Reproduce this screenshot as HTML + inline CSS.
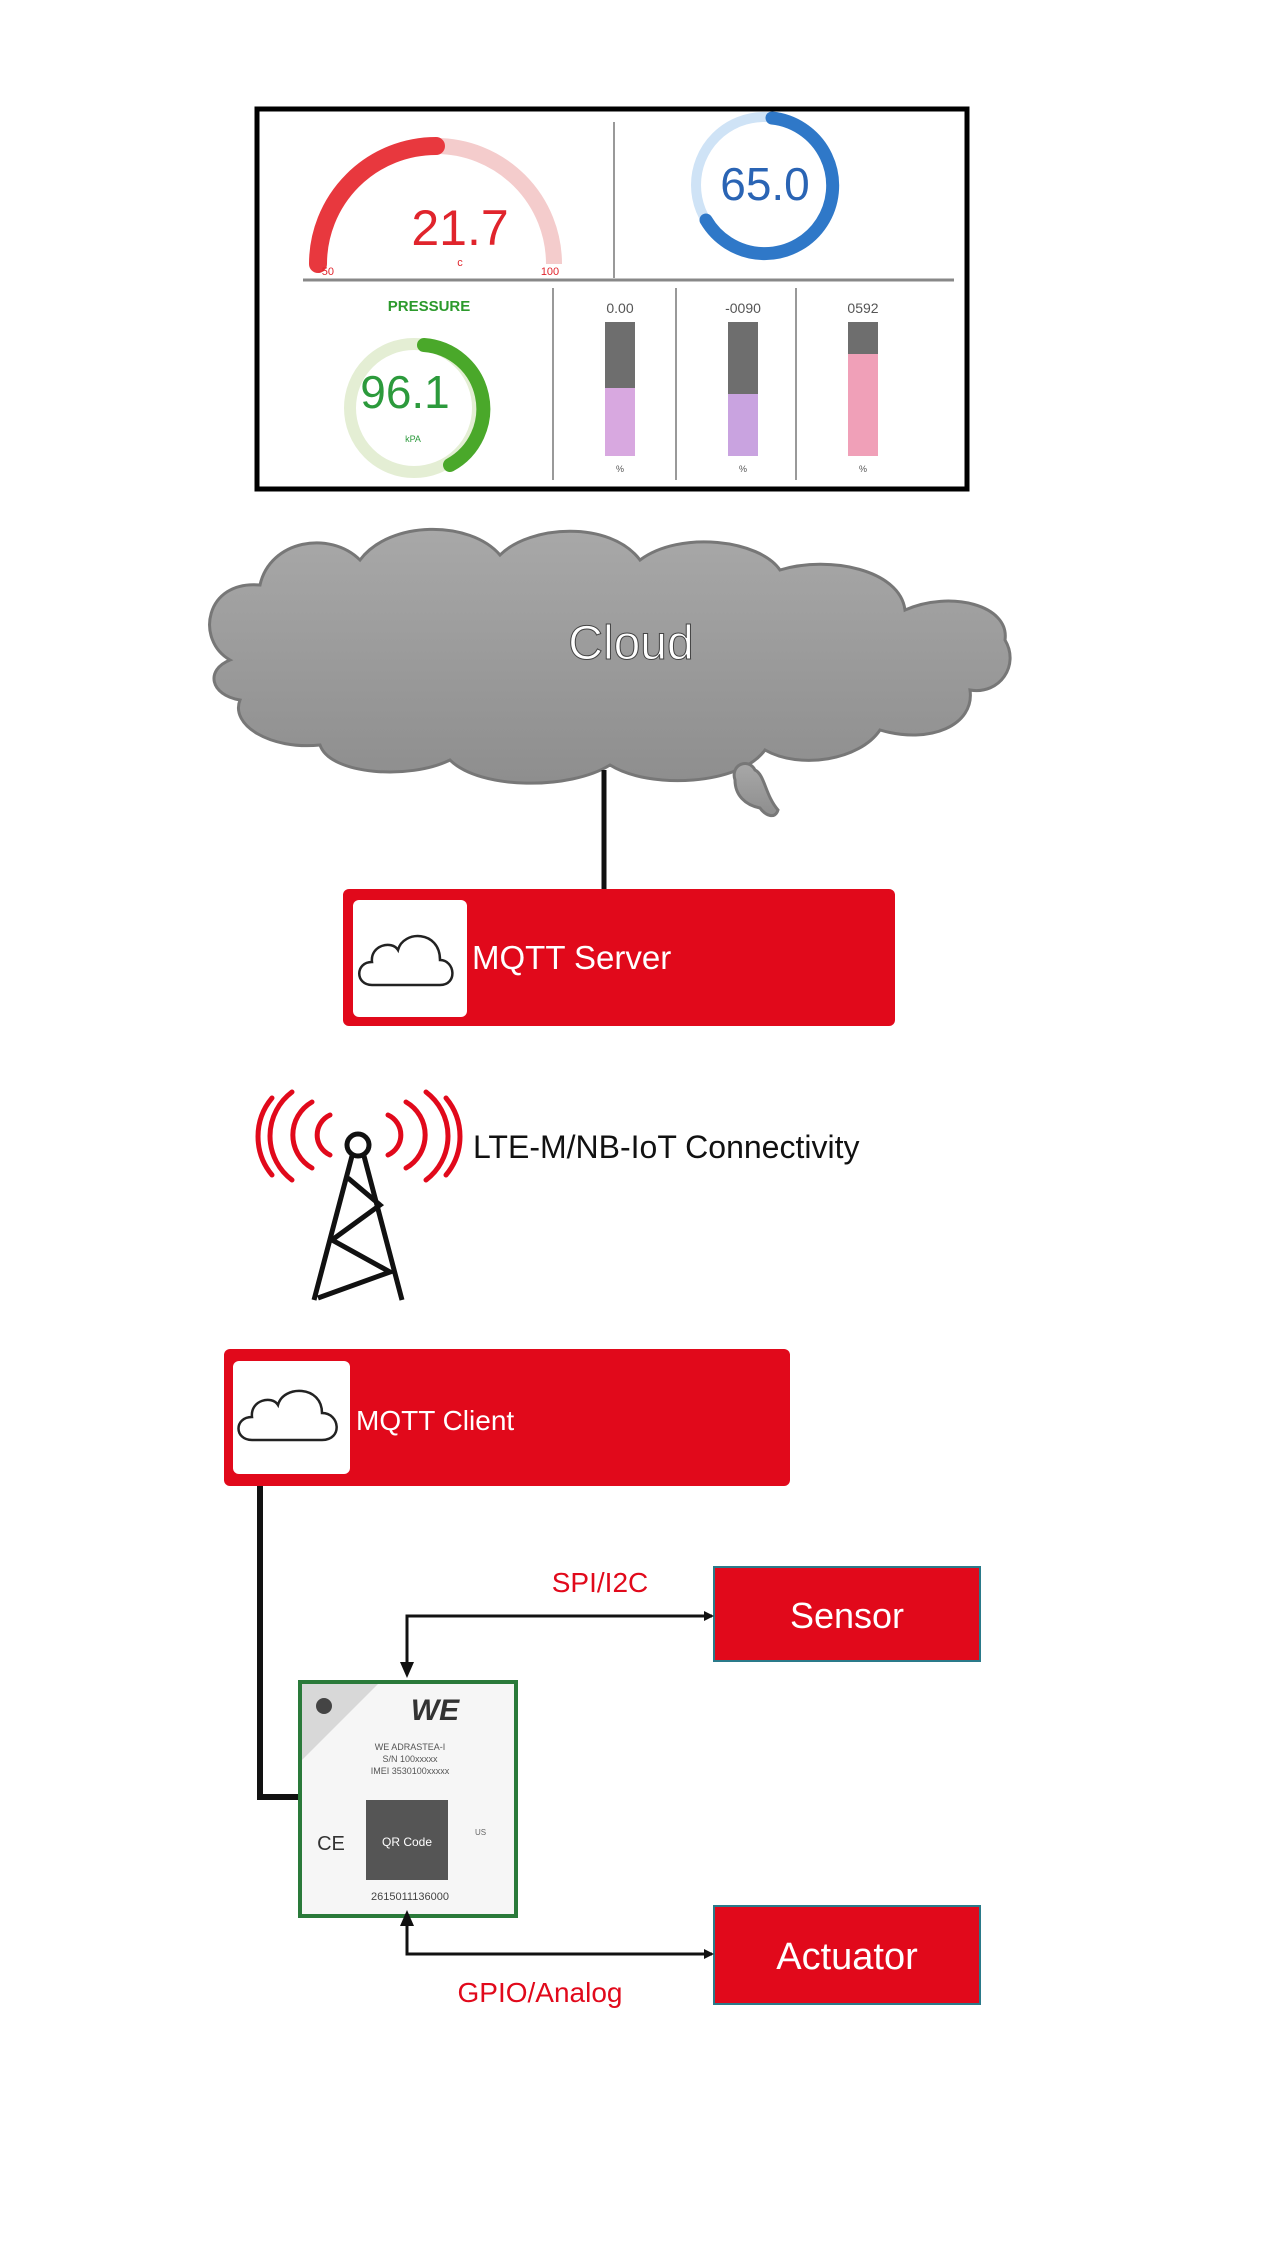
<!DOCTYPE html>
<html><head><meta charset="utf-8"><style>
html,body{margin:0;padding:0;background:#fff;}
svg{display:block;}
</style></head><body>
<svg width="1280" height="2252" viewBox="0 0 1280 2252" xmlns="http://www.w3.org/2000/svg" font-family="'Liberation Sans', sans-serif">
<defs>
<linearGradient id="cg" x1="0" y1="0" x2="0" y2="1"><stop offset="0" stop-color="#a8a8a8"/><stop offset="1" stop-color="#8e8e8e"/></linearGradient>
<marker id="ah" markerWidth="10" markerHeight="10" refX="8" refY="5" orient="auto" markerUnits="userSpaceOnUse"><path d="M0,0 L10,5 L0,10 z" fill="#111"/></marker>
</defs>
<!-- Dashboard -->
<rect x="257" y="109" width="710" height="380" fill="#fff" stroke="#000" stroke-width="5"/>
<line x1="614" y1="122" x2="614" y2="278" stroke="#999" stroke-width="2"/>
<line x1="303" y1="280" x2="954" y2="280" stroke="#888" stroke-width="3"/>
<line x1="553" y1="288" x2="553" y2="480" stroke="#999" stroke-width="2"/>
<line x1="676" y1="288" x2="676" y2="480" stroke="#999" stroke-width="2"/>
<line x1="796" y1="288" x2="796" y2="480" stroke="#999" stroke-width="2"/>
<!-- red gauge -->
<path d="M436,146 A118,118 0 0 1 554,264" fill="none" stroke="#f4cccc" stroke-width="16"/>
<path d="M318,264 A118,118 0 0 1 436,146" fill="none" stroke="#e8383e" stroke-width="18" stroke-linecap="round"/>
<text x="460" y="245" font-size="50" fill="#e0242c" text-anchor="middle">21.7</text>
<text x="326" y="275" font-size="11" fill="#e0242c" text-anchor="middle">-50</text>
<text x="460" y="266" font-size="11" fill="#e0242c" text-anchor="middle">c</text>
<text x="550" y="275" font-size="11" fill="#e0242c" text-anchor="middle">100</text>
<!-- blue gauge -->
<circle cx="764" cy="185" r="68" fill="none" stroke="#cfe3f6" stroke-width="10"/>
<path d="M772,118 A68,68 0 1 1 706,220" fill="none" stroke="#2f78c8" stroke-width="13" stroke-linecap="round"/>
<text x="765" y="200" font-size="46" fill="#2a64b4" text-anchor="middle">65.0</text>
<!-- green gauge -->
<text x="429" y="311" font-size="15" fill="#2c9a2c" text-anchor="middle" font-weight="bold">PRESSURE</text>
<circle cx="414" cy="408" r="64" fill="none" stroke="#e4eed4" stroke-width="12"/>
<path d="M424,345 A64,64 0 0 1 450,465" fill="none" stroke="#4aa82a" stroke-width="14" stroke-linecap="round"/>
<text x="405" y="408" font-size="46" fill="#2c9a3c" text-anchor="middle">96.1</text>
<text x="413" y="442" font-size="9" fill="#2c9a3c" text-anchor="middle">kPA</text>
<!-- bars -->
<g font-size="14" fill="#555" text-anchor="middle">
<rect x="605" y="322" width="30" height="66" fill="#555" opacity="0.85"/>
<rect x="605" y="388" width="30" height="68" fill="#d8a8e0"/>
<text x="620" y="313">0.00</text><text x="620" y="472" font-size="9">%</text>
<rect x="728" y="322" width="30" height="72" fill="#555" opacity="0.85"/>
<rect x="728" y="394" width="30" height="62" fill="#c9a3e0"/>
<text x="743" y="313">-0090</text><text x="743" y="472" font-size="9">%</text>
<rect x="848" y="322" width="30" height="32" fill="#555" opacity="0.85"/>
<rect x="848" y="354" width="30" height="102" fill="#f0a0b8"/>
<text x="863" y="313">0592</text><text x="863" y="472" font-size="9">%</text>
</g>
<!-- Cloud -->
<g fill="url(#cg)" stroke="#777" stroke-width="3">
<path d="M230,660 C195,640 205,580 260,585 C270,540 330,530 360,560 C390,520 470,520 500,555 C530,525 610,520 640,560 C680,530 760,540 780,570 C830,555 900,570 905,610 C950,590 1010,605 1005,640 C1020,665 1000,695 970,690 C975,725 930,745 880,730 C860,760 800,770 765,750 C740,785 650,790 610,765 C570,790 480,790 450,760 C410,780 330,775 320,745 C270,750 230,725 240,700 C210,695 205,670 230,660 Z"/>
<path d="M735,780 C730,765 748,757 755,770 C765,775 765,795 778,810 C775,820 765,815 760,808 C745,805 735,795 735,780 Z"/>
</g>
<text x="631" y="659" font-size="48" fill="#fff" stroke="#444" stroke-width="1" text-anchor="middle">Cloud</text>
<line x1="604" y1="770" x2="604" y2="892" stroke="#111" stroke-width="5"/>
<!-- MQTT Server -->
<rect x="343" y="889" width="552" height="137" rx="6" fill="#e1091b"/>
<rect x="353" y="900" width="114" height="117" rx="6" fill="#fff"/>
<path d="M372,985 C355,985 355,962 372,962 C370,945 392,940 398,950 C403,930 440,930 440,960 C455,960 458,985 440,985 Z" fill="none" stroke="#222" stroke-width="2.5"/>
<text x="472" y="969" font-size="33" fill="#fff">MQTT Server</text>
<!-- Tower -->
<g fill="none" stroke="#e1091b" stroke-width="5" stroke-linecap="round">
<path d="M330,1115 A22,22 0 0 0 330,1155"/><path d="M388,1115 A22,22 0 0 1 388,1155"/>
<path d="M312,1102 A38,38 0 0 0 312,1168"/><path d="M406,1102 A38,38 0 0 1 406,1168"/>
<path d="M292,1092 A55,55 0 0 0 292,1180"/><path d="M426,1092 A55,55 0 0 1 426,1180"/>
<path d="M272,1098 A60,60 0 0 0 272,1175" /><path d="M446,1098 A60,60 0 0 1 446,1175"/>
</g>
<g fill="none" stroke="#111" stroke-width="5">
<circle cx="358" cy="1145" r="11"/>
<path d="M352,1156 L314,1300 M364,1156 L402,1300 M348,1178 L380,1205 L332,1240 L390,1272 L318,1298"/>
</g>
<text x="473" y="1158" font-size="32" fill="#111">LTE-M/NB-IoT Connectivity</text>
<!-- MQTT Client -->
<rect x="224" y="1349" width="566" height="137" rx="6" fill="#e1091b"/>
<rect x="233" y="1361" width="117" height="113" rx="6" fill="#fff"/>
<path d="M252,1440 C234,1440 234,1417 252,1417 C250,1400 272,1395 278,1405 C283,1385 322,1385 322,1413 C340,1413 343,1440 322,1440 Z" fill="none" stroke="#222" stroke-width="2.5"/>
<text x="356" y="1430" font-size="28" fill="#fff">MQTT Client</text>
<polyline points="260,1486 260,1797 300,1797" fill="none" stroke="#111" stroke-width="6"/>
<!-- Module -->
<rect x="300" y="1682" width="216" height="234" fill="#f6f6f6" stroke="#2a7a3a" stroke-width="4"/>
<path d="M302,1684 L378,1684 L302,1760 Z" fill="#d8d8d8"/>
<circle cx="324" cy="1706" r="8" fill="#444"/>
<text x="435" y="1720" font-size="30" fill="#333" font-style="italic" font-weight="bold" text-anchor="middle">WE</text>
<text x="410" y="1750" font-size="9" fill="#555" text-anchor="middle">WE ADRASTEA-I</text>
<text x="410" y="1762" font-size="9" fill="#555" text-anchor="middle">S/N 100xxxxx</text>
<text x="410" y="1774" font-size="9" fill="#555" text-anchor="middle">IMEI 3530100xxxxx</text>
<rect x="366" y="1800" width="82" height="80" fill="#555"/>
<text x="407" y="1846" font-size="12" fill="#fff" text-anchor="middle">QR Code</text>
<text x="331" y="1850" font-size="20" fill="#333" text-anchor="middle">CE</text>
<text x="475" y="1835" font-size="8" fill="#666">US</text>
<text x="410" y="1900" font-size="11" fill="#444" text-anchor="middle">2615011136000</text>
<!-- Sensor / Actuator -->
<rect x="714" y="1567" width="266" height="94" fill="#e1091b" stroke="#2a7a8a" stroke-width="2"/>
<text x="847" y="1628" font-size="36" fill="#fff" text-anchor="middle">Sensor</text>
<rect x="714" y="1906" width="266" height="98" fill="#e1091b" stroke="#2a7a8a" stroke-width="2"/>
<text x="847" y="1969" font-size="38" fill="#fff" text-anchor="middle">Actuator</text>
<text x="600" y="1592" font-size="28" fill="#e1091b" text-anchor="middle">SPI/I2C</text>
<text x="540" y="2002" font-size="28" fill="#e1091b" text-anchor="middle">GPIO/Analog</text>
<polyline points="407,1666 407,1616 712,1616" fill="none" stroke="#111" stroke-width="3" marker-end="url(#ah)"/>
<path d="M400,1662 L414,1662 L407,1678 Z" fill="#111"/>
<polyline points="407,1922 407,1954 712,1954" fill="none" stroke="#111" stroke-width="3" marker-end="url(#ah)"/>
<path d="M400,1926 L414,1926 L407,1910 Z" fill="#111"/>
</svg>
</body></html>
